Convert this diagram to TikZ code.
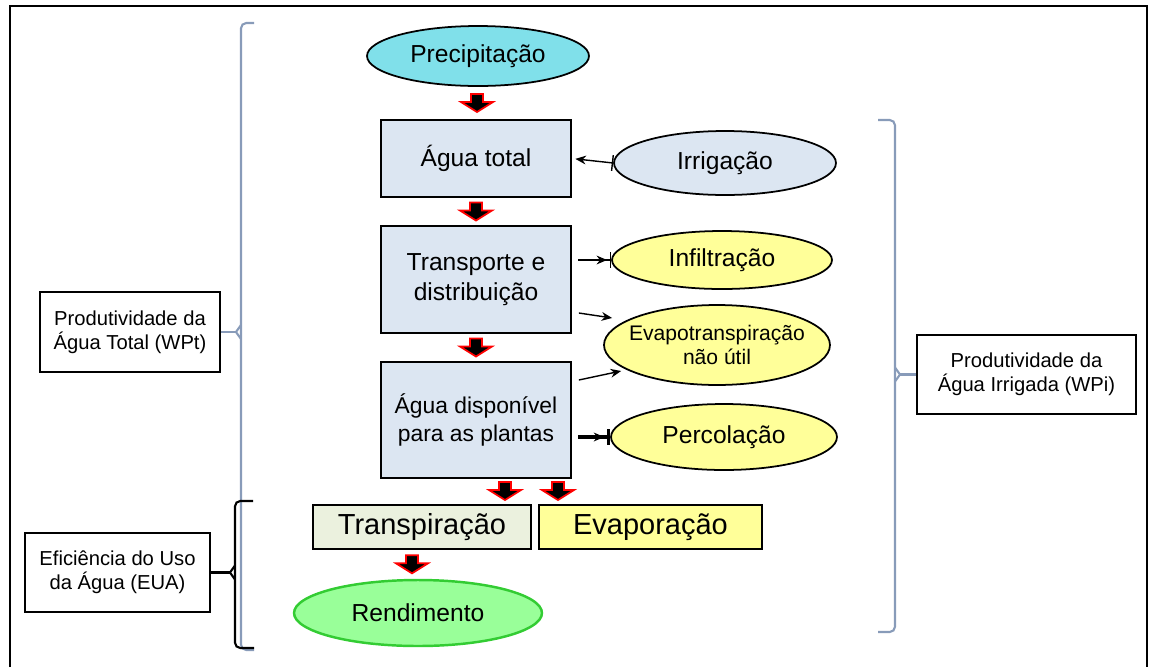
\documentclass[tikz,border=0pt]{standalone}
\usepackage{fontspec}
\setmainfont{Liberation Sans}
\usetikzlibrary{shapes.geometric,arrows.meta,calc}
\definecolor{azulclaro}{RGB}{220,230,242}
\definecolor{ciano}{RGB}{128,224,234}
\definecolor{amarelo}{RGB}{255,255,153}
\definecolor{verdeclaro}{RGB}{235,241,222}
\definecolor{verde}{RGB}{153,255,153}
\definecolor{verdeborda}{RGB}{51,204,51}
\definecolor{cinzaazul}{RGB}{136,155,185}
\tikzset{
  caixa/.style={draw, line width=1pt, inner sep=0pt, align=center},
  etapa/.style={caixa, fill=azulclaro, minimum width=3.8cm},
  elipse/.style={ellipse, draw, line width=1pt, inner sep=0pt, align=center},
  lateral/.style={caixa, fill=white, font=\fontsize{11.5}{13.5}\selectfont},
  seta/.style={line width=0.8pt, -{Stealth[length=6pt,width=5pt]}},
  fim/.style={-{Stealth[length=6pt,width=5pt,sep=1.5pt] Bar[width=9pt]}},
  chave/.style={line width=1.2pt, cinzaazul, rounded corners=3pt},
  setabloco/.pic={
    \draw[red, fill=black, line width=1pt, line join=miter]
      (-6,-9) -- (6,-9) -- (6,-1) -- (16,-1) -- (0,9) -- (-16,-1) -- (-6,-1) -- cycle;
  }
}

\begin{document}
\begin{tikzpicture}[x=0.02cm, y=-0.02cm, font=\fontsize{14}{17}\selectfont]
\useasboundingbox (0,0) rectangle (1157,667);
\draw[line width=1.2pt] (10,667) -- (10,6) -- (1147,6) -- (1147,667);

% coluna central
\node[elipse, fill=ciano, minimum width=4.44cm, minimum height=1.2cm] (precip) at (478,56) {Precipitação};
\node[etapa, minimum height=1.54cm] (agua) at (476,158.5) {Água total};
\node[etapa, minimum height=2.14cm] (transp) at (476,279.5) {Transporte e\\distribuição};
\node[etapa, minimum height=2.32cm, font=\fontsize{13}{16}\selectfont] (disp) at (476,420) {Água disponível\\para as plantas};
\node[caixa, fill=verdeclaro, minimum width=4.36cm, minimum height=0.88cm, font=\fontsize{16.5}{19}\selectfont] (transpir) at (422,527) {Transpiração};
\node[caixa, fill=amarelo, minimum width=4.46cm, minimum height=0.88cm, font=\fontsize{16.5}{19}\selectfont] (evapor) at (650.5,527) {Evaporação};
\node[elipse, fill=verde, draw=verdeborda, line width=1.4pt, minimum width=4.96cm, minimum height=1.32cm] (rend) at (418,613) {Rendimento};

% entradas e perdas
\node[elipse, fill=azulclaro, minimum width=4.44cm, minimum height=1.28cm] (irrig) at (725,163) {Irrigação};
\node[elipse, fill=amarelo, minimum width=4.4cm, minimum height=1.16cm] (infil) at (722,260) {Infiltração};
\node[elipse, fill=amarelo, minimum width=4.52cm, minimum height=1.6cm, inner xsep=-8pt, font=\fontsize{12}{13.5}\selectfont] (evapt) at (717,345) {Evapotranspiração\\não útil};
\node[elipse, fill=amarelo, minimum width=4.52cm, minimum height=1.32cm] (percol) at (724,437) {Percolação};

% caixas laterais
\node[lateral, minimum width=3.6cm, minimum height=1.6cm] (wpt) at (130,332) {Produtividade da\\Água Total (WPt)};
\node[lateral, minimum width=3.7cm, minimum height=1.58cm] (eua) at (117.5,572.5) {Eficiência do Uso\\da Água (EUA)};
\node[lateral, minimum width=4.38cm, minimum height=1.58cm] (wpi) at (1026.5,374.5) {Produtividade da\\Água Irrigada (WPi)};

% setas de bloco
\pic at ($(precip.south)!.5!(agua.north)$) {setabloco};
\pic at ($(agua.south)!.5!(transp.north)$) {setabloco};
\pic at ($(transp.south)!.5!(disp.north)$) {setabloco};
\pic at (505,491) {setabloco};
\pic at (558,491) {setabloco};
\pic at ($(transpir.south)!.5!(rend.north)+(-8,0)$) {setabloco};

% setas finas
\draw[seta, {Bar[width=9pt]}-{Stealth[length=6pt,width=5pt]}, shorten >=2pt] (irrig.west) -- (agua.east);
\draw[seta, fim, shorten <=3.5pt] (transp.east |- infil.west) -- (infil.west);
\draw[seta] ($(transp.east)+(7,33.5)$) -- ($(evapt.west)+(9,-27)$);
\draw[seta] ($(disp.east)+(7,-40)$) -- ($(evapt.west)+(18,26)$);
\draw[seta, fim, line width=1.8pt, shorten <=3.5pt] (disp.east |- percol.west) -- (percol.west);

% chaves
\coordinate (chE) at (241,0);
\coordinate (chP) at (235,0);
\coordinate (chD) at (895,0);
\draw[chave] (254,23) -| (241,650) -- (254,650);
\draw[chave, rounded corners=0pt] ($(wpt.east -| chE)+(0,-7)$) -- ($(wpt.east -| chE)+(-5,0)$) -- ($(wpt.east -| chE)+(0,7)$);
\draw[chave, rounded corners=0pt] (wpt.east) -- ($(wpt.east -| chE)+(-5,0)$);
\draw[chave, black] (253,501) -| (235,648) -- (254,648);
\draw[chave, black, rounded corners=0pt] ($(eua.east -| chP)+(0,-7)$) -- ($(eua.east -| chP)+(-5,0)$) -- ($(eua.east -| chP)+(0,7)$);
\draw[chave, black, rounded corners=0pt] (eua.east) -- ($(eua.east -| chP)+(-5,0)$);
\draw[chave] (878,120) -| (895,632) -- (878,632);
\draw[chave, rounded corners=0pt] ($(wpi.west -| chD)+(0,-7)$) -- ($(wpi.west -| chD)+(5,0)$) -- ($(wpi.west -| chD)+(0,7)$);
\draw[chave, rounded corners=0pt] (wpi.west) -- ($(wpi.west -| chD)+(5,0)$);
\end{tikzpicture}
\end{document}
